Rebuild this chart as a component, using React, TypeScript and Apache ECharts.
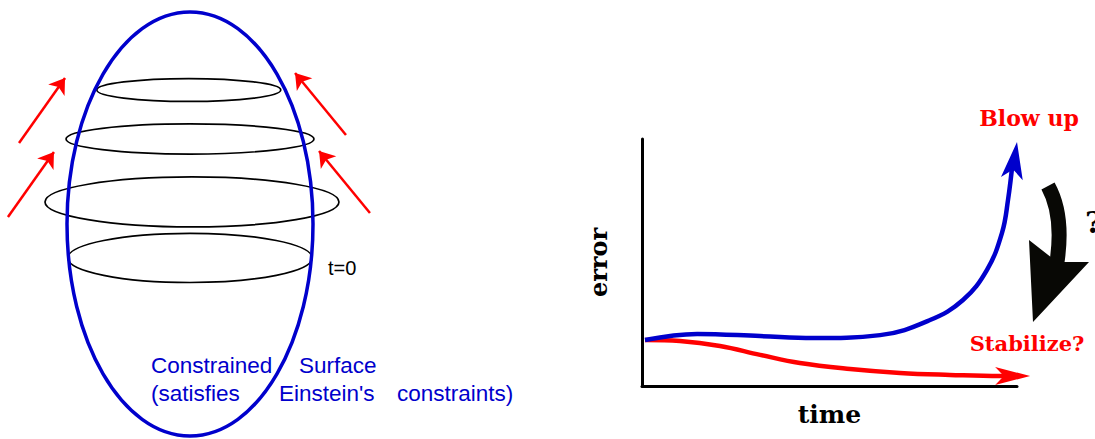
import React, { useEffect, useRef } from "react";
import * as echarts from "echarts";

// ---- Left diagram (normalized units: the constrained surface is the unit ellipse) ----
const surface = [[0, 0, 1, 1]];
const sliceCx = [-0.01, 0, 0.016, 0];
const sliceCy = [0.632, 0.401, 0.104, -0.16];
const sliceRx = [0.748, 1.008, 1.195, 0.992];
const sliceRy = [0.054, 0.071, 0.118, 0.116];
const driftFrom = [
  [-1.39, 0.382],
  [-1.48, 0.033],
  [1.268, 0.42],
  [1.463, 0.052],
];
const driftTo = [
  [-1.016, 0.689],
  [-1.106, 0.34],
  [0.854, 0.712],
  [1.049, 0.344],
];

// ---- Right chart: error vs time ----
const blowTime = [0.8, 14.7, 31.5, 45.6, 63.5, 76.8, 85.6, 92, 96, 97.6, 98.9];
const blowError = [18.6, 21.1, 20.2, 19.4, 20.6, 26.7, 34.8, 47, 62, 75.3, 91.5];
const blowTip = [100, 98.8];
const stableTime = [0.8, 10.1, 20.8, 31.5, 42.1, 55.5, 68.8, 82.1, 95.5, 98.8];
const stableError = [18.6, 18.2, 16.2, 12.6, 9.3, 6.9, 5.3, 4.5, 4.0, 4.05];
const stableTip = [103.5, 4.05];

const BLUE = "#0000cc";
const RED = "#ff0000";
const SERIF = "'DejaVu Serif', serif";
const SANS = "'Liberation Sans', Arial, sans-serif";

export default function App() {
  const ref = useRef<HTMLDivElement>(null);
  useEffect(() => {
    document.body.style.margin = "0";
    const chart = echarts.init(ref.current!, null, { renderer: "svg" });
    const ellipseItem = (stroke: string, lineWidth: number) => (params: any, api: any) => {
      const c = api.coord([api.value(0), api.value(1)]);
      const s = api.size([api.value(2), api.value(3)]);
      return {
        type: "ellipse",
        shape: { cx: c[0], cy: c[1], rx: s[0], ry: s[1] },
        style: { fill: "none", stroke, lineWidth },
      };
    };
    const blueText = (text: string, x: number, y: number) => ({
      type: "text",
      x,
      y,
      style: { text, fontFamily: SANS, fontSize: 22.5, fill: BLUE, verticalAlign: "middle" },
    });
    chart.setOption({
      animation: false,
      grid: [
        { left: 67, top: 12, width: 246, height: 424 },
        { left: 642, top: 139, width: 375, height: 247 },
      ],
      xAxis: [
        { gridIndex: 0, type: "value", min: -1, max: 1, show: false },
        {
          gridIndex: 1,
          type: "value",
          min: 0,
          max: 100,
          name: "time",
          nameLocation: "middle",
          nameGap: 16,
          nameTextStyle: { fontFamily: SERIF, fontWeight: "bold", fontSize: 25, color: "#000" },
          axisLine: { show: true, lineStyle: { color: "#000", width: 3 } },
          axisTick: { show: false },
          axisLabel: { show: false },
          splitLine: { show: false },
        },
      ],
      yAxis: [
        { gridIndex: 0, type: "value", min: -1, max: 1, show: false },
        {
          gridIndex: 1,
          type: "value",
          min: 0,
          max: 100,
          name: "error",
          nameLocation: "middle",
          nameGap: 32,
          nameTextStyle: { fontFamily: SERIF, fontWeight: "bold", fontSize: 24, color: "#000" },
          axisLine: { show: true, lineStyle: { color: "#000", width: 3 } },
          axisTick: { show: false },
          axisLabel: { show: false },
          splitLine: { show: false },
        },
      ],
      series: [
        {
          type: "custom",
          xAxisIndex: 0,
          yAxisIndex: 0,
          renderItem: ellipseItem("#000", 1.7),
          data: sliceCx.map((cx, i) => [cx, sliceCy[i], sliceRx[i], sliceRy[i]]),
          clip: false,
        },
        {
          type: "custom",
          xAxisIndex: 0,
          yAxisIndex: 0,
          renderItem: ellipseItem(BLUE, 3.5),
          data: surface,
          clip: false,
        },
        {
          type: "lines",
          coordinateSystem: "cartesian2d",
          xAxisIndex: 0,
          yAxisIndex: 0,
          clip: false,
          symbol: ["none", "arrow"],
          symbolSize: 15,
          lineStyle: { color: RED, width: 2.5, opacity: 1, curveness: 0 },
          data: driftFrom.map((f, i) => ({ coords: [f, driftTo[i]] })),
        },
        {
          type: "line",
          xAxisIndex: 1,
          yAxisIndex: 1,
          clip: false,
          smooth: 0.4,
          symbol: "none",
          lineStyle: { color: RED, width: 4.5 },
          data: stableTime.map((t, i) => [t, stableError[i]]),
        },
        {
          type: "line",
          xAxisIndex: 1,
          yAxisIndex: 1,
          clip: false,
          smooth: 0.4,
          symbol: "none",
          lineStyle: { color: BLUE, width: 4.5 },
          data: blowTime.map((t, i) => [t, blowError[i]]),
        },
        {
          type: "scatter",
          xAxisIndex: 1,
          yAxisIndex: 1,
          clip: false,
          symbol: "arrow",
          data: [
            {
              value: blowTip,
              symbolSize: [16.5, 37],
              symbolRotate: -8,
              itemStyle: { color: BLUE, opacity: 1 },
            },
            {
              value: stableTip,
              symbolSize: [13.5, 35],
              symbolRotate: -90,
              itemStyle: { color: RED, opacity: 1 },
            },
          ],
        },
      ],
      graphic: [
        {
          type: "text",
          x: 328,
          y: 268,
          style: { text: "t=0", fontFamily: SANS, fontSize: 20, fill: "#000", verticalAlign: "middle" },
        },
        blueText("Constrained", 151, 365),
        blueText("Surface", 299, 365),
        blueText("(satisfies", 151, 393),
        blueText("Einstein's", 279, 393),
        blueText("constraints)", 397, 393),
        {
          type: "text",
          x: 1029,
          y: 118,
          style: {
            text: "Blow up",
            fontFamily: SERIF,
            fontWeight: "bold",
            fontSize: 22,
            fill: RED,
            align: "center",
            verticalAlign: "middle",
          },
        },
        {
          type: "text",
          x: 1027,
          y: 343,
          style: {
            text: "Stabilize?",
            fontFamily: SERIF,
            fontWeight: "bold",
            fontSize: 21,
            fill: RED,
            align: "center",
            verticalAlign: "middle",
          },
        },
        {
          type: "text",
          x: 1085,
          y: 222,
          style: { text: "?", fontFamily: SERIF, fontWeight: "bold", fontSize: 30, fill: "#000", verticalAlign: "middle" },
        },
        {
          type: "bezierCurve",
          shape: { x1: 1048, y1: 186, cpx1: 1064, cpy1: 215, x2: 1057, y2: 262 },
          style: { stroke: "#080805", lineWidth: 15, fill: "none" },
        },
        {
          type: "polygon",
          shape: {
            points: [
              [1029, 240],
              [1052, 258],
              [1060, 262],
              [1089, 262],
              [1033, 322],
            ],
          },
          style: { fill: "#080805" },
        },
      ],
    });
    return () => chart.dispose();
  }, []);
  return <div ref={ref} style={{ width: 1095, height: 439 }} />;
}
